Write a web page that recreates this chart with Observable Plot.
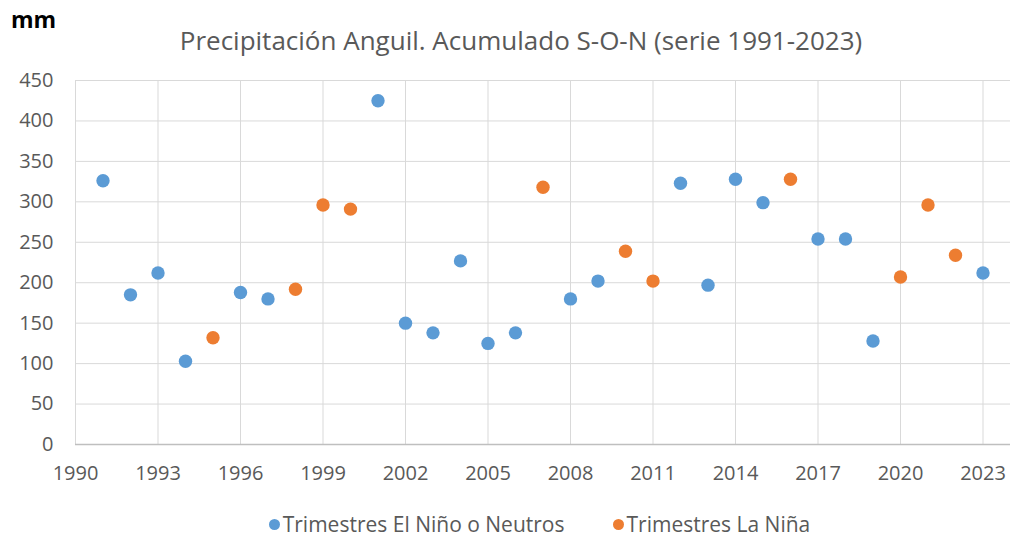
<!DOCTYPE html>
<html>
<head>
<meta charset="utf-8">
<script src="https://cdn.jsdelivr.net/npm/d3@7"></script>
<script src="https://cdn.jsdelivr.net/npm/@observablehq/plot@0.6"></script>
<style>
  html, body { margin: 0; padding: 0; background: #fff; }
  #wrap { position: relative; width: 1011px; height: 537px; overflow: hidden; font-family: "Open Sans", "Noto Sans", sans-serif; }
  #head { position: relative; height: 62px; }
  #unit { position: absolute; left: 11px; top: 4px; font: bold 23px "Open Sans", sans-serif; color: #000; line-height: 30px; }
  #title { position: absolute; left: 0; width: 1042px; top: 25px; text-align: center; font-size: 26px; color: #595959; line-height: 30px; }
  #legend { height: 45px; display: flex; justify-content: center; align-items: flex-start; padding-top: 22px; padding-left: 68px; box-sizing: border-box; font-size: 21px; color: #595959; line-height: 21px; gap: 48px; }
  .item { display: flex; align-items: center; }
  .sw { width: 11px; height: 11px; border-radius: 50%; margin-right: 3px; display: inline-block; }
  svg { display: block; }
</style>
</head>
<body>
<div id="wrap">
  <div id="head"><div id="unit">mm</div><div id="title">Precipitación Anguil. Acumulado S-O-N (serie 1991-2023)</div></div>
  <div id="chart"></div>
  <div id="legend"></div>
</div>
<script>
const years = [1991,1992,1993,1994,1995,1996,1997,1998,1999,2000,2001,2002,2003,2004,2005,2006,2007,2008,2009,2010,2011,2012,2013,2014,2015,2016,2017,2018,2019,2020,2021,2022,2023];
const mm    = [326,185,212,103,132,188,180,192,296,291,425,150,138,227,125,138,318,180,202,239,202,323,197,328,299,328,254,254,128,207,296,234,212];
const fase  = ["N","N","N","N","L","N","N","L","L","L","N","N","N","N","N","N","L","N","N","L","L","N","N","N","N","L","N","N","N","L","L","L","N"];
const seriesNames = {N: "Trimestres El Niño o Neutros", L: "Trimestres La Niña"};
const seriesColors = {N: "#5B9BD5", L: "#ED7D31"};
const xTicks = [1990,1993,1996,1999,2002,2005,2008,2011,2014,2017,2020,2023];
const yTicks = [0,50,100,150,200,250,300,350,400,450];

const data = years.map((y, i) => ({year: y, mm: mm[i], serie: seriesNames[fase[i]]}));

const chart = Plot.plot({
  width: 1011,
  height: 430,
  marginTop: 18,
  marginBottom: 48,
  marginLeft: 75,
  marginRight: 1,
  style: {fontFamily: "'Open Sans', 'Noto Sans', sans-serif", fontSize: "20px", color: "#595959", background: "#fff"},
  x: {domain: [1990, 2024], label: null},
  y: {domain: [0, 450], label: null},
  color: {domain: [seriesNames.N, seriesNames.L], range: [seriesColors.N, seriesColors.L]},
  marks: [
    Plot.gridY(yTicks, {stroke: "#d9d9d9", strokeOpacity: 1, strokeWidth: 1}),
    Plot.gridX(xTicks, {stroke: "#d9d9d9", strokeOpacity: 1, strokeWidth: 1}),
    Plot.axisY(yTicks, {tickSize: 0, tickPadding: 22, fill: "#595959", fontSize: 20}),
    Plot.axisX(xTicks, {tickSize: 0, tickPadding: 21, tickFormat: d => String(d), fill: "#595959", fontSize: 20}),
    Plot.ruleY([0], {stroke: "#bfbfbf", strokeWidth: 1.5}),
    Plot.dot(data, {x: "year", y: "mm", fill: "serie", r: 6.7, stroke: null})
  ]
});
document.getElementById("chart").appendChild(chart);

const legend = document.getElementById("legend");
["N", "L"].forEach(k => {
  const it = document.createElement("div");
  it.className = "item";
  const sw = document.createElement("span");
  sw.className = "sw";
  sw.style.background = seriesColors[k];
  it.appendChild(sw);
  it.appendChild(document.createTextNode(seriesNames[k]));
  legend.appendChild(it);
});
</script>
</body>
</html>
